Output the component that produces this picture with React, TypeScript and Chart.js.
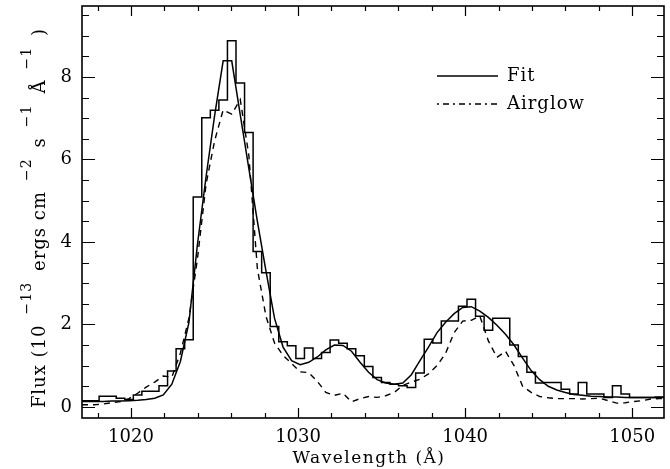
import React, { useEffect, useRef } from "react";
import { Chart, registerables } from "chart.js";

Chart.register(...registerables);

// Axis ranges (Å and flux units)
const X_MIN = 1017.07;
const X_MAX = 1051.9;
const Y_MIN = -0.27;
const Y_MAX = 9.72;

// Histogram binning of the observed spectrum
const BIN_START = 1017.07;
const BIN_WIDTH = 0.512;

// Observed flux per bin (10^-13 ergs cm^-2 s^-1 Å^-1)
const observedFlux = [
  0.15, 0.15, 0.26, 0.26, 0.21, 0.18, 0.29, 0.38, 0.38, 0.51,
  0.87, 1.41, 1.63, 5.09, 7.01, 7.19, 7.44, 8.88, 7.85, 6.65,
  3.77, 3.25, 1.95, 1.58, 1.48, 1.17, 1.43, 1.17, 1.32, 1.62,
  1.54, 1.41, 1.24, 0.98, 0.71, 0.59, 0.55, 0.51, 0.47, 0.82,
  1.64, 1.55, 2.08, 2.08, 2.44, 2.61, 2.2, 1.86, 2.15, 2.15,
  1.5, 1.22, 0.84, 0.58, 0.59, 0.59, 0.43, 0.31, 0.59, 0.31,
  0.31, 0.23, 0.51, 0.31, 0.23, 0.23, 0.23, 0.24,
];

// Fit, sampled at bin centres
const fitFlux = [
  0.13, 0.13, 0.13, 0.14, 0.14, 0.15, 0.16, 0.18, 0.21, 0.29,
  0.55, 1.1, 2.05, 3.95, 5.58, 7.06, 8.39, 8.39, 7.08, 5.78,
  4.5, 3.3, 2.15, 1.45, 1.12, 1.02, 1.08, 1.21, 1.38, 1.5,
  1.49, 1.35, 1.08, 0.84, 0.66, 0.58, 0.55, 0.58, 0.78, 1.12,
  1.45, 1.8, 2.05, 2.26, 2.41, 2.43, 2.32, 2.17, 1.98, 1.76,
  1.5, 1.18, 0.88, 0.66, 0.5, 0.41, 0.35, 0.3, 0.28, 0.26,
  0.25, 0.24, 0.24, 0.23, 0.23, 0.23, 0.23, 0.23,
];

// Airglow, sampled at bin centres
const airglowFlux = [
  0.05, 0.05, 0.07, 0.1, 0.13, 0.2, 0.33, 0.48, 0.6, 0.75,
  0.72, 1.3, 2.15, 3.6, 5.4, 6.45, 7.2, 7.1, 7.45, 6.1,
  3.35, 2.2, 1.55, 1.25, 1.05, 0.85, 0.83, 0.62, 0.35, 0.28,
  0.33, 0.12, 0.2, 0.25, 0.23, 0.27, 0.35, 0.52, 0.6, 0.67,
  0.8, 1.0, 1.3, 1.8, 2.08, 2.1, 2.2, 1.6, 1.2, 1.35,
  1.0, 0.5, 0.35, 0.25, 0.22, 0.2, 0.2, 0.2, 0.19, 0.2,
  0.21, 0.15, 0.09, 0.1, 0.13, 0.15, 0.19, 0.2,
];

const xTickLabels = [1020, 1030, 1040, 1050];
const yTickLabels = [0, 2, 4, 6, 8];
const X_MINOR_STEP = 2;
const Y_MINOR_STEP = 0.5;

const SERIF = "'DejaVu Serif', serif";

const yTitleParts = [
  { t: "Flux (10", sup: false },
  { t: "\u221213", sup: true },
  { t: "ergs cm", sup: false },
  { t: "\u22122", sup: true },
  { t: "s", sup: false },
  { t: "\u22121", sup: true },
  { t: "\u00C5", sup: false },
  { t: "\u22121", sup: true },
  { t: ")", sup: false },
];

const decorPlugin = {
  id: "decor",
  afterDatasetsDraw(chart: any) {
    const { ctx, chartArea: a, scales } = chart;
    const x = scales.x;
    const y = scales.y;
    ctx.save();
    // ticks
    ctx.strokeStyle = "#000";
    ctx.lineWidth = 1.2;
    ctx.beginPath();
    for (let v = Math.ceil(X_MIN / X_MINOR_STEP) * X_MINOR_STEP; v <= X_MAX; v += X_MINOR_STEP) {
      const px = Math.round(x.getPixelForValue(v)) + 0.5;
      const len = v % 10 === 0 ? 10 : 5;
      ctx.moveTo(px, a.bottom);
      ctx.lineTo(px, a.bottom - len);
      ctx.moveTo(px, a.top);
      ctx.lineTo(px, a.top + len);
    }
    for (let v = 0; v <= Y_MAX; v += Y_MINOR_STEP) {
      const py = Math.round(y.getPixelForValue(v)) + 0.5;
      const len = v % 2 === 0 ? 13 : 7;
      ctx.moveTo(a.left, py);
      ctx.lineTo(a.left + len, py);
      ctx.moveTo(a.right, py);
      ctx.lineTo(a.right - len, py);
    }
    ctx.stroke();
    // frame
    ctx.lineWidth = 1.6;
    ctx.strokeRect(a.left, a.top, a.right - a.left, a.bottom - a.top);

    // legend
    ctx.lineWidth = 1.5;
    ctx.beginPath();
    ctx.moveTo(437, 76);
    ctx.lineTo(498, 76);
    ctx.stroke();
    ctx.setLineDash([2, 4, 6, 4]);
    ctx.beginPath();
    ctx.moveTo(437, 104);
    ctx.lineTo(498, 104);
    ctx.stroke();
    ctx.setLineDash([]);
    ctx.fillStyle = "#000";
    ctx.font = `18px ${SERIF}`;
    (ctx as any).letterSpacing = "1px";
    ctx.textAlign = "left";
    ctx.textBaseline = "alphabetic";
    ctx.fillText("Fit", 507, 81);
    ctx.fillText("Airglow", 507, 109);

    // x title
    ctx.font = `17px ${SERIF}`;
    (ctx as any).letterSpacing = "1.5px";
    ctx.textAlign = "center";
    ctx.fillText("Wavelength (\u00C5)", 369, 463);

    // y title with superscripts
    const mainFont = `18px ${SERIF}`;
    const supFont = `14px ${SERIF}`;
    (ctx as any).letterSpacing = "1px";
    const gapBefore = 10;
    const gapAfter = 11;
    let total = 0;
    const widths = yTitleParts.map((p, i) => {
      ctx.font = p.sup ? supFont : mainFont;
      const w = ctx.measureText(p.t).width;
      let g = 0;
      if (p.sup) g = gapBefore;
      if (i > 0 && yTitleParts[i - 1].sup) g = gapAfter;
      total += w + g;
      return { w, g };
    });
    const cx = 45;
    const cy = 218;
    ctx.translate(cx, cy);
    ctx.rotate(-Math.PI / 2);
    ctx.textAlign = "left";
    let pos = -total / 2;
    yTitleParts.forEach((p, i) => {
      pos += widths[i].g;
      ctx.font = p.sup ? supFont : mainFont;
      ctx.fillText(p.t, pos, p.sup ? -14 : 0);
      pos += widths[i].w;
    });
    ctx.restore();
  },
};

export default function App() {
  const ref = useRef<HTMLCanvasElement | null>(null);
  useEffect(() => {
    if (!ref.current) return;
    const edges = observedFlux.map((_, k) => BIN_START + k * BIN_WIDTH);
    const histData = observedFlux.map((v, k) => ({ x: edges[k], y: v }));
    histData.push({ x: BIN_START + observedFlux.length * BIN_WIDTH, y: observedFlux[observedFlux.length - 1] });
    const centers = fitFlux.map((_, k) => BIN_START + (k + 0.5) * BIN_WIDTH);
    const withEnds = (arr: number[]) => [
      { x: X_MIN, y: arr[0] },
      ...arr.map((v, k) => ({ x: centers[k], y: v })),
      { x: X_MAX, y: arr[arr.length - 1] },
    ];

    const chart = new Chart(ref.current, {
      type: "line",
      data: {
        datasets: [
          {
            label: "Observed",
            data: histData,
            stepped: true,
            borderColor: "#000",
            borderWidth: 1.5,
            pointRadius: 0,
            fill: false,
          },
          {
            label: "Fit",
            data: withEnds(fitFlux),
            borderColor: "#000",
            borderWidth: 1.5,
            pointRadius: 0,
            tension: 0,
            fill: false,
          },
          {
            label: "Airglow",
            data: withEnds(airglowFlux),
            borderColor: "#000",
            borderWidth: 1.4,
            borderDash: [6, 5],
            pointRadius: 0,
            tension: 0,
            fill: false,
          },
        ],
      },
      options: {
        animation: false,
        responsive: false,
        devicePixelRatio: 1,
        layout: { padding: { top: 6, right: 6, left: 0, bottom: 0 } },
        plugins: { legend: { display: false }, tooltip: { enabled: false } },
        scales: {
          x: {
            type: "linear",
            min: X_MIN,
            max: X_MAX,
            grid: { display: false, drawTicks: false },
            border: { display: false },
            afterBuildTicks: (s: any) => {
              s.ticks = xTickLabels.map((v) => ({ value: v }));
            },
            afterFit: (s: any) => {
              s.height = 51;
              s.paddingLeft = 0;
              s.paddingRight = 0;
            },
            ticks: {
              color: "#000",
              font: { family: SERIF, size: 18 },
              padding: 9,
              maxRotation: 0,
              autoSkip: false,
              callback: (v: any) => String(v),
            },
          },
          y: {
            type: "linear",
            min: Y_MIN,
            max: Y_MAX,
            grid: { display: false, drawTicks: false },
            border: { display: false },
            afterBuildTicks: (s: any) => {
              s.ticks = yTickLabels.map((v) => ({ value: v }));
            },
            afterFit: (s: any) => {
              s.width = 82;
              s.paddingTop = 0;
              s.paddingBottom = 0;
            },
            ticks: {
              color: "#000",
              font: { family: SERIF, size: 18 },
              padding: 10,
              callback: (v: any) => String(v),
            },
          },
        },
      },
      plugins: [decorPlugin],
    });
    return () => chart.destroy();
  }, []);

  return (
    <div style={{ position: "fixed", left: 0, top: 0, width: 670, height: 469, background: "#fff" }}>
      <canvas ref={ref} width={670} height={469} style={{ display: "block" }} />
    </div>
  );
}
